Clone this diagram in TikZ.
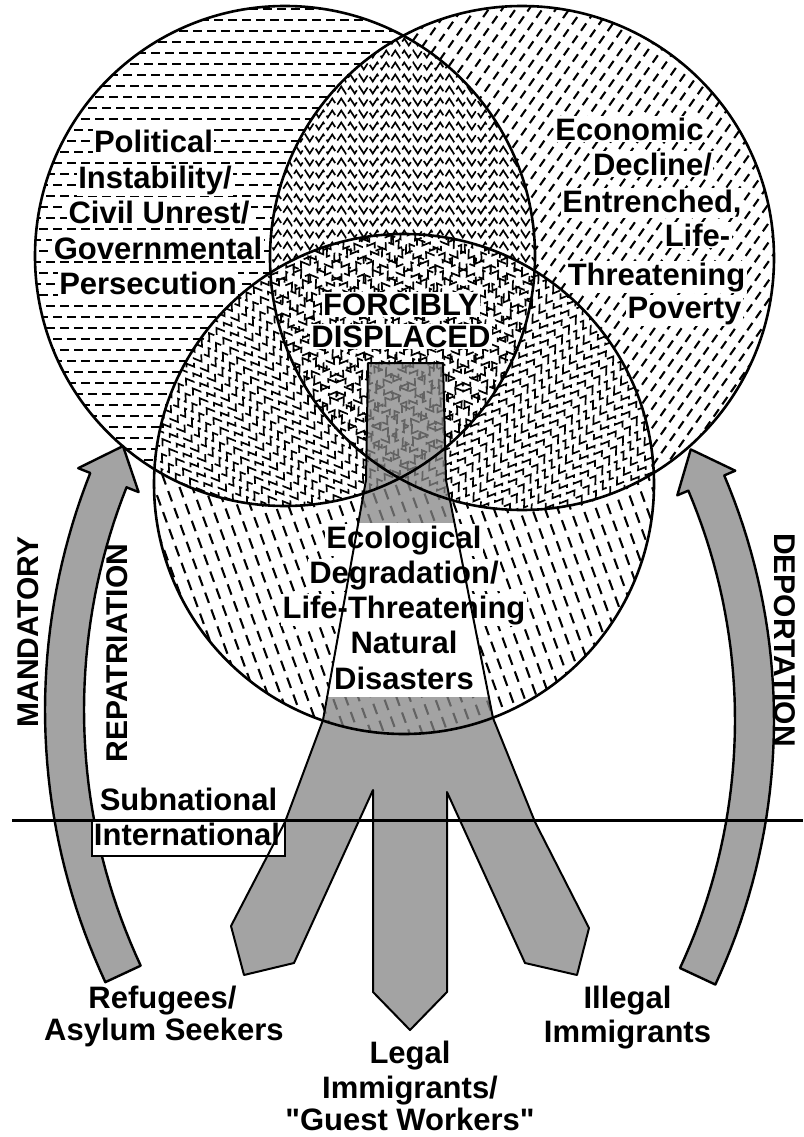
\documentclass[tikz,border=0pt]{standalone}
\usepackage{fontspec}
\setmainfont{Liberation Sans}
\usetikzlibrary{decorations.pathmorphing}
\begin{document}
\begin{tikzpicture}[x=1pt,y=-1pt,
 pathL/.style={insert path={(285,256) circle[radius=250pt]}},
 pathR/.style={insert path={(522,258) circle[radius=252pt]}},
 pathB/.style={insert path={(404,484) circle[radius=250pt]}},
 tiepath/.style={insert path={(368,363) -- (366,480) -- (323,720) -- (285,822) -- (231,926) -- (244,975) -- (294,963) -- (373,790) -- (373,992) -- (410,1030) -- (447,992) -- (447,792) -- (525,963) -- (577,975) -- (589,928) -- (535,822) -- (493,718) -- (446,480) -- (443,363) -- cycle}},
 hd/.style={line width=2.3pt, dash pattern=on 9pt off 5pt},
 rd/.style={line width=2.1pt, dash pattern=on 9pt off 6pt},
 bd/.style={line width=2.1pt, dash pattern=on 11pt off 7pt},
 zz/.style={line width=1.7pt, decorate, decoration={zigzag, segment length=9pt, amplitude=3.5pt}, dash pattern=on 16pt off 4pt},
 lbl/.style={font=\fontsize{31}{35}\selectfont\bfseries, inner sep=1.5pt, fill=white, anchor=base},
 rlbl/.style={font=\fontsize{30}{34}\selectfont\bfseries, inner sep=0pt},
 arrowfill/.style={fill=black!36, draw=black, line width=2.4pt, line join=round},
 outline/.style={draw=black, line width=2.6pt},
]
\useasboundingbox (0,0) rectangle (803,1137);
\fill[white] (0,0) rectangle (803,1137);

% ---- single-circle patterns
\begin{scope}
 \clip[pathL];
 \foreach \yy in {9,31,...,510} \draw[hd] (25,\yy) -- (545,\yy);
 \foreach \yy in {20,42,...,510} \draw[hd,dash phase=7pt] (25,\yy) -- (545,\yy);
\end{scope}
\begin{scope}
 \clip[pathR];
 \begin{scope}[shift={(522,258)}, rotate=55]
  \foreach \v in {-280,-269,...,280} \draw[rd] (-290,\v) -- (290,\v);
 \end{scope}
\end{scope}
\begin{scope}
 \clip[pathB];
 \begin{scope}[shift={(404,484)}, rotate=-70]
  \foreach \v in {-280,-268,...,280} \draw[bd] (-290,\v) -- (290,\v);
 \end{scope}
\end{scope}

% ---- pairwise intersections
\begin{scope}
 \clip[pathL]; \clip[pathR];
 \fill[white] (0,0) rectangle (803,1137);
 \foreach \yy in {30,42,...,500} \draw[zz] (240,\yy) -- (570,\yy);
\end{scope}
\begin{scope}
 \clip[pathL]; \clip[pathB];
 \fill[white] (0,0) rectangle (803,1137);
 \begin{scope}[shift={(280,400)}, rotate=35]
  \foreach \v in {-200,-188,...,200} \draw[zz] (-220,\v) -- (220,\v);
 \end{scope}
\end{scope}
\begin{scope}
 \clip[pathR]; \clip[pathB];
 \fill[white] (0,0) rectangle (803,1137);
 \begin{scope}[shift={(530,400)}, rotate=-35]
  \foreach \v in {-200,-188,...,200} \draw[zz] (-220,\v) -- (220,\v);
 \end{scope}
\end{scope}
\begin{scope}
 \clip[pathL]; \clip[pathR]; \clip[pathB];
 \fill[white] (0,0) rectangle (803,1137);
 \begin{scope}[shift={(400,360)}, rotate=35]
  \foreach \v in {-150,-134,...,150} \draw[zz] (-180,\v) -- (180,\v);
 \end{scope}
 \begin{scope}[shift={(400,360)}, rotate=-35]
  \foreach \v in {-142,-126,...,150} \draw[zz] (-180,\v) -- (180,\v);
 \end{scope}
\end{scope}

% ---- central tie (gray)
\fill[black!48, fill opacity=0.75][tiepath];
\begin{scope}
 \clip[tiepath];
 \fill[white] (300,523) rectangle (510,697);
\end{scope}

% ---- curved arrows
\draw[arrowfill] plot[domain=155:201.6, samples=40] ({689+644*cos(\x)},{710+644*sin(\x)})
  -- ({689+657*cos(201.6)},{710+657*sin(201.6)})
  -- ({689+624.5*cos(205)},{710+624.5*sin(205)})
  -- ({689+592*cos(201.6)},{710+592*sin(201.6)})
  -- plot[domain=201.6:155, samples=40] ({689+605*cos(\x)},{710+605*sin(\x)}) -- cycle;
\draw[arrowfill] plot[domain=25:-23, samples=40] ({148+626*cos(\x)},{720+626*sin(\x)})
  -- ({148+638*cos(-23)},{720+638*sin(-23)})
  -- ({148+606.5*cos(-26.5)},{720+606.5*sin(-26.5)})
  -- ({148+575*cos(-23)},{720+575*sin(-23)})
  -- plot[domain=-23:25, samples=40] ({148+587*cos(\x)},{720+587*sin(\x)}) -- cycle;

% ---- subnational / international
\draw[fill=white, line width=2pt] (92,820) rectangle (285,856);
\coordinate (hl) at (12,820);
\coordinate (hr) at (803,820);

% ---- labels
\node[lbl] (pol1) at (153.5,153) {Political};
\node[lbl] (pol2) at (155,188) {Instability/};
\node[lbl] (pol3) at (159,223) {Civil Unrest/};
\node[lbl] (pol4) at (158,259) {Governmental};
\node[lbl] (pol5) at (148,294) {Persecution};

\node[lbl] (eco1) at (629.5,140) {Economic};
\node[lbl] (eco2) at (652.5,175) {Decline/};
\node[lbl] (eco3) at (652,212) {Entrenched,};
\node[lbl] (eco4) at (697.5,246) {Life-};
\node[lbl] (eco5) at (656.5,285) {Threatening};
\node[lbl] (eco6) at (684.5,318) {Poverty};

\node[lbl] (fd1) at (401,315) {FORCIBLY};
\node[lbl] (fd2) at (401,347) {DISPLACED};

\node[lbl] (ecl1) at (404,548) {Ecological};
\node[lbl] (ecl2) at (404,583) {Degradation/};
\node[lbl] (ecl3) at (404,618) {Life-Threatening};
\node[lbl] (ecl4) at (404,653) {Natural};
\node[lbl] (ecl5) at (404,689) {Disasters};

\node[lbl, fill=none] (sub) at (188.5,810) {Subnational};
\node[lbl, fill=none] (intl) at (187,845) {International};

\node[lbl] (ref1) at (162.5,1008) {Refugees/};
\node[lbl] (ref2) at (164,1040) {Asylum Seekers};
\node[lbl] (leg1) at (410,1063) {Legal};
\node[lbl] (leg2) at (410,1098) {Immigrants/};
\node[lbl] (leg3) at (410,1130) {\textquotedbl Guest Workers\textquotedbl};
\node[lbl] (ill1) at (627.5,1008) {Illegal};
\node[lbl] (ill2) at (627.5,1042) {Immigrants};

\node[rlbl, rotate=90] (mand) at (28,632) {MANDATORY};
\node[rlbl, rotate=90] (repat) at (117,653) {REPATRIATION};
\node[rlbl, rotate=-90] (deport) at (785,640) {DEPORTATION};

% ---- outlines
\draw[line width=2pt, line join=round][tiepath];
\draw[outline][pathL];
\draw[outline][pathR];
\draw[outline][pathB];
\draw[line width=3pt] (hl) -- (hr);
\end{tikzpicture}
\end{document}
